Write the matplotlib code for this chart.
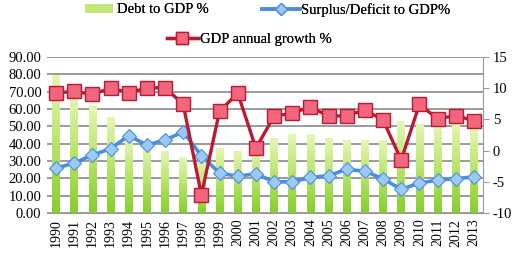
import matplotlib
matplotlib.use('Agg')
import matplotlib.pyplot as plt
from matplotlib.colors import LinearSegmentedColormap
from matplotlib.lines import Line2D
from matplotlib.patches import Patch
import numpy as np

plt.rcParams['font.family'] = ['Liberation Serif', 'DejaVu Serif']

years = [str(y) for y in range(1990, 2014)]
debt = [79.5, 68, 62, 55.3, 43, 38, 35.5, 32, 30, 37, 35.5, 38,
        43, 45.5, 45.5, 43, 42, 41.5, 41.5, 52.5, 51, 50, 51.5, 48.7]
deficit = [-2.8, -2.0, -0.7, 0.3, 2.4, 0.9, 1.7, 3.0, -0.8, -3.6, -4.1, -3.7,
           -5.0, -5.0, -4.3, -4.0, -3.0, -3.3, -4.5, -6.2, -5.2, -4.7, -4.5, -4.2]
growth = [9.2, 9.5, 9.0, 10.0, 9.3, 10.0, 10.1, 7.4, -7.1, 6.3, 9.2, 0.4,
          5.5, 6.0, 7.0, 5.5, 5.6, 6.5, 4.9, -1.5, 7.4, 5.1, 5.6, 4.8]
left_ticks = np.arange(0, 91, 10)
right_ticks = np.arange(-10, 16, 5)

fig = plt.figure(figsize=(5.16, 2.54), dpi=100)
ax = fig.add_axes([0.091, 0.161, 0.845, 0.615])
x = np.arange(len(years))

# gradient bars
bar_cmap = LinearSegmentedColormap.from_list("bar", ["#86cf2e", "#b8e46a", "#e6f6b4"])
grad = np.linspace(0, 1, 64).reshape(-1, 1)
bw = 0.42
for xi, h in zip(x, debt):
    ax.imshow(grad, extent=(xi - bw / 2, xi + bw / 2, 0, h), origin='lower',
              cmap=bar_cmap, aspect='auto', zorder=2)

ax.set_xlim(-0.5, len(years) - 0.5)
ax.set_ylim(0, 90)
ax.set_yticks(left_ticks)
ax.set_yticklabels([f"{v:.2f}" for v in left_ticks], fontsize=10.5)
ax.set_xticks(x)
ax.set_xticklabels(years, rotation=90, fontsize=10)
ax.tick_params(axis='both', length=0, pad=4)
ax.grid(axis='y', color='#8a8a8a', linewidth=1.2, zorder=1)
ax.set_axisbelow(True)
for s in ['left', 'top', 'right']:
    ax.spines[s].set_visible(False)
ax.spines['bottom'].set_color('#9a9a9a')

ax2 = ax.twinx()
ax2.plot(x, deficit, color='#4a8ee0', linewidth=2.6, marker='D', markersize=7,
         markerfacecolor='#9ccaf4', markeredgecolor='#4a8ee0', markeredgewidth=0.8, zorder=3)
ax2.plot(x, growth, color='#b81c34', linewidth=2.4, marker='s', markersize=10,
         markerfacecolor='#f2667e', markeredgecolor='#b81c34', markeredgewidth=1.0, zorder=4)
ax2.set_ylim(-10, 15)
ax2.set_yticks(right_ticks)
ax2.set_yticklabels([str(v) for v in right_ticks], fontsize=10.5)
ax2.tick_params(axis='y', length=4, color='#9a9a9a', pad=3)
for s in ['left', 'top', 'bottom']:
    ax2.spines[s].set_visible(False)
ax2.spines['right'].set_color('#9a9a9a')

h1 = Patch(facecolor='#c4e878', edgecolor='none')
h2 = Line2D([], [], color='#4a8ee0', linewidth=2.6, marker='D', markersize=6,
            markerfacecolor='#9ccaf4', markeredgecolor='#4a8ee0')
h3 = Line2D([], [], color='#b81c34', linewidth=2.4, marker='s', markersize=8,
            markerfacecolor='#f2667e', markeredgecolor='#b81c34')

fs = 10.5
legend_items = [
    (h1, 'Debt to GDP %', 85, 0.961, 1.92, 0.27, 0.55),
    (h2, 'Surplus/Deficit to GDP%', 262, 0.961, 2.6, 0.1, 0.7),
    (h3, 'GDP annual growth %', 167, 0.843, 2.1, 0.15, 0.7),
]
for hnd, lab, px, py, hl, tp, hh in legend_items:
    leg = fig.legend([hnd], [lab], loc='center left', bbox_to_anchor=(px / 516, py),
                     frameon=False, fontsize=fs, handlelength=hl, handletextpad=tp,
                     handleheight=hh, borderpad=0, borderaxespad=0)
    fig.add_artist(leg)

plt.savefig("out.png", dpi=100)
plt.close(fig)
